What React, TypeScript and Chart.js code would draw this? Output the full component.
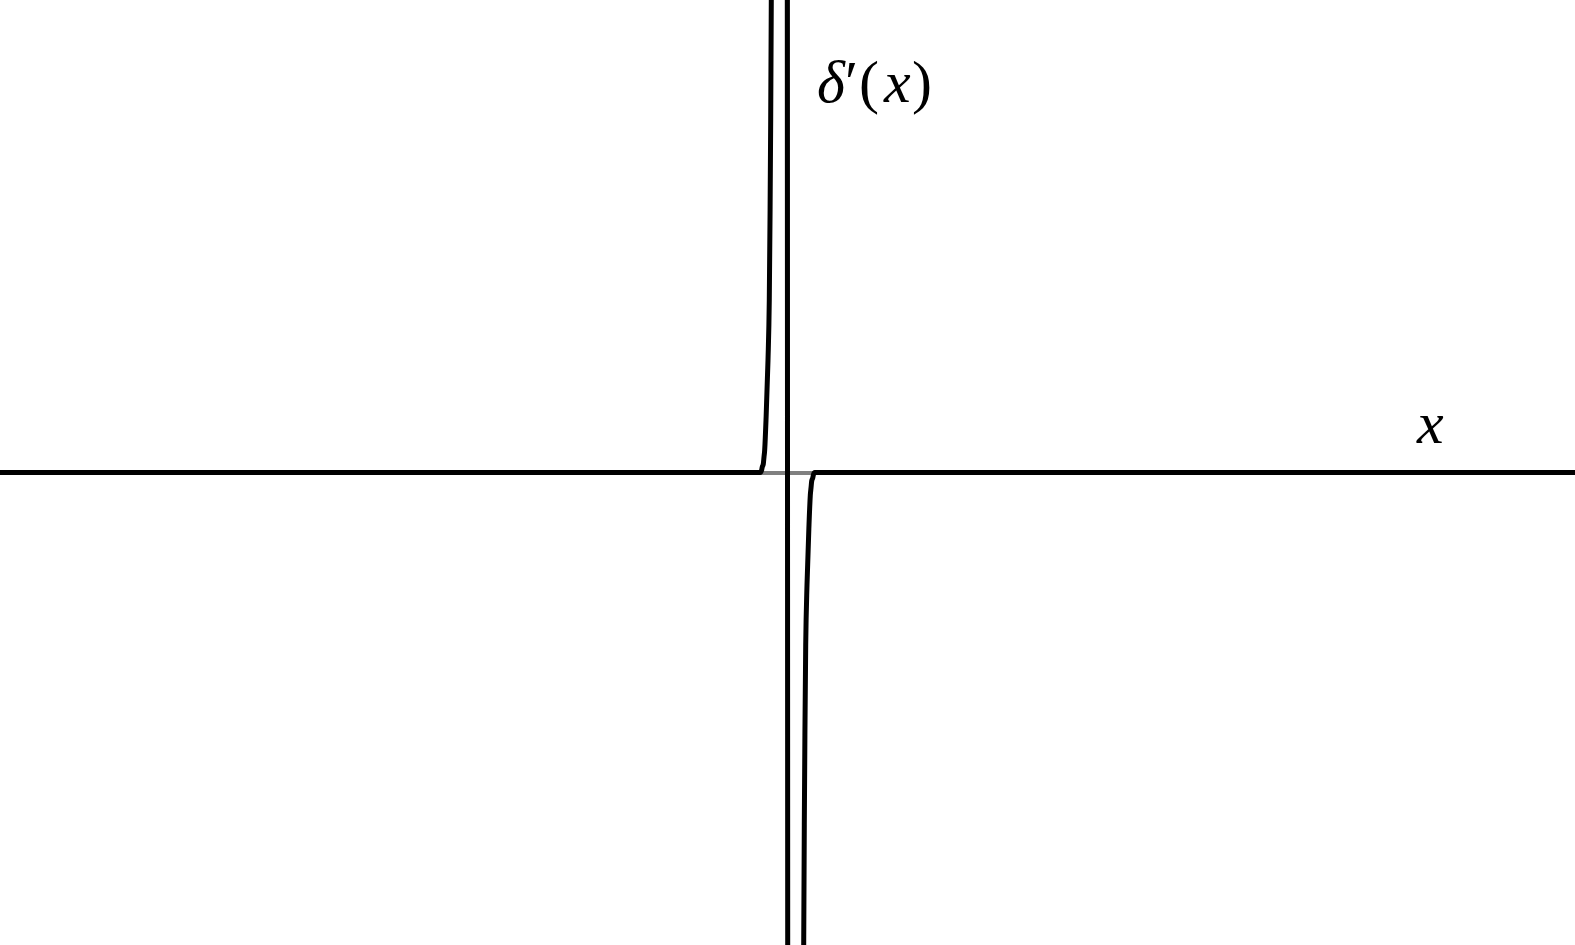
import { useEffect, useRef } from "react";
import { Chart, registerables } from "chart.js";

Chart.register(...registerables);

// Curve of δ'(x) (narrow derivative-of-Gaussian).
const curveX = [
  -50, -1.727, -1.651, -1.6, -1.537, -1.492, -1.448, -1.365, -1.238, -1.156, -1.105, -1.067,
  -1.029, -0.984, -0.8, -0.5, -0.05, 0, 0.05, 0.5, 0.8, 0.984, 1.029, 1.067, 1.105, 1.156,
  1.238, 1.365, 1.448, 1.492, 1.537, 1.6, 1.651, 1.727, 50,
];
const curveY = [
  0, 0, 0.004, 0.012, 0.018, 0.033, 0.048, 0.111, 0.238, 0.365, 0.556, 0.746,
  1.0, 1.42, 2.5, 3.2, 3.2, 0, -3.2, -3.2, -2.5, -1.42, -1.0, -0.746, -0.556, -0.365,
  -0.238, -0.111, -0.048, -0.033, -0.018, -0.012, -0.004, 0, 0,
];

const xRange = [-50, 50];
const yRange = [-1, 1];

const yAxisLabel = ["δ", "′", "(", "x", ")"];
const xAxisLabel = "x";

export default function App() {
  const ref = useRef<HTMLCanvasElement>(null);

  useEffect(() => {
    if (!ref.current) return;
    const labelPlugin = {
      id: "mathLabels",
      afterDraw(chart: any) {
        const ctx = chart.ctx as CanvasRenderingContext2D;
        ctx.save();
        ctx.fillStyle = "#000";
        ctx.textBaseline = "alphabetic";
        ctx.textAlign = "left";
        const size = 60;
        const it = `italic ${size}px "Liberation Serif"`;
        const up = `${size}px "Liberation Serif"`;
        const fonts = [it, up, up, it, up];
        const lefts = [817, 845, 859, 884, 912];
        yAxisLabel.forEach((s, i) => {
          ctx.font = fonts[i];
          ctx.fillText(s, lefts[i], 102);
        });
        ctx.font = it;
        ctx.fillText(xAxisLabel, 1417, 443);
        ctx.restore();
      },
    };

    const zeroLine = (c: any) => (c.tick && c.tick.value === 0 ? "#808080" : "rgba(0,0,0,0)");

    const chart = new Chart(ref.current, {
      type: "line",
      data: {
        datasets: [
          {
            data: curveX.map((x, i) => ({ x, y: curveY[i] })),
            borderColor: "#000",
            borderWidth: 5,
            pointRadius: 0,
            cubicInterpolationMode: "monotone",
            fill: false,
          },
        ],
      },
      options: {
        animation: false,
        responsive: false,
        events: [],
        layout: { padding: 0, autoPadding: false },
        plugins: { legend: { display: false }, tooltip: { enabled: false }, title: { display: false } },
        scales: {
          x: {
            type: "linear",
            min: xRange[0],
            max: xRange[1],
            ticks: { display: false, stepSize: 10 },
            grid: { color: zeroLine, lineWidth: 4, drawTicks: false },
            border: { display: false },
          },
          y: {
            type: "linear",
            min: yRange[0],
            max: yRange[1],
            ticks: { display: false, stepSize: 0.5 },
            grid: { color: zeroLine, lineWidth: 4, drawTicks: false },
            border: { display: false },
          },
        },
      },
      plugins: [labelPlugin],
    });
    return () => chart.destroy();
  }, []);

  return (
    <div style={{ position: "fixed", left: 0, top: 0, width: 1575, height: 945, background: "#fff" }}>
      <canvas ref={ref} width={1575} height={945} />
    </div>
  );
}
